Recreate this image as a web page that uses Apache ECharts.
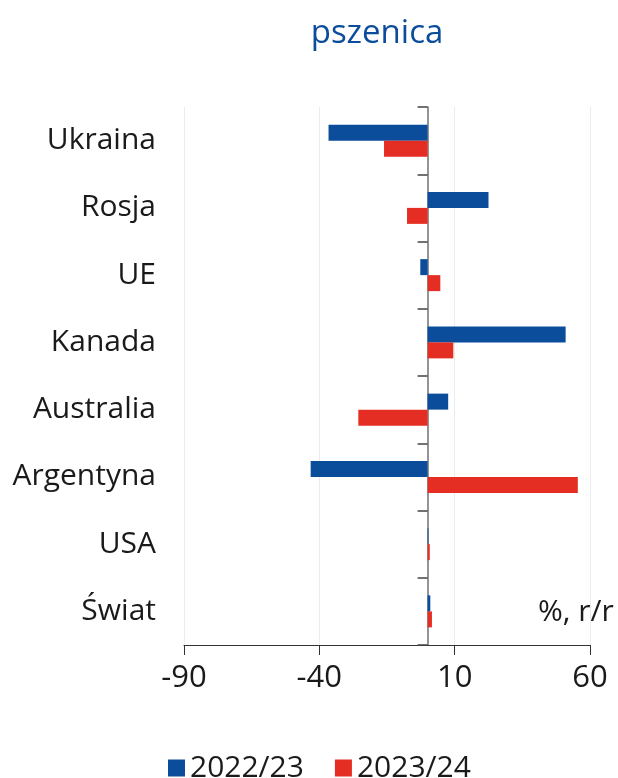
<!DOCTYPE html>
<html>
<head>
<meta charset="utf-8">
<script src="https://cdn.jsdelivr.net/npm/echarts@6/dist/echarts.min.js"></script>
<style>
html,body{margin:0;padding:0;background:#fff;}
#main{width:618px;height:778px;}
</style>
</head>
<body>
<div id="main"></div>
<script>
const titleText = 'pszenica';
const unitText = '%, r/r';
const categories = ['Ukraina', 'Rosja', 'UE', 'Kanada', 'Australia', 'Argentyna', 'USA', 'Świat'];
const seriesNames = ['2022/23', '2023/24'];
const values2223 = [-36.6, 22.5, -2.7, 51.0, 7.6, -43.2, 0.3, 1.0];
const values2324 = [-16.1, -7.6, 4.7, 9.5, -25.6, 55.5, 0.8, 1.6];
const xMin = -90, xMax = 60, xStep = 50;

const FONT = 'Open Sans';
const chart = echarts.init(document.getElementById('main'), null, {renderer: 'canvas'});
chart.setOption({
  animation: false,
  backgroundColor: '#fff',
  title: {
    text: titleText,
    left: 372, top: 12,
    textAlign: 'center',
    textStyle: {fontFamily: FONT, fontSize: 33, fontWeight: 'normal', color: '#0b4d9b'}
  },
  legend: {
    data: seriesNames,
    left: 163, top: 748,
    icon: 'rect', itemWidth: 17, itemHeight: 17, itemGap: 31,
    textStyle: {fontFamily: FONT, fontSize: 30, color: '#1a1a1a'}
  },
  grid: {left: 184, right: 28, top: 107, bottom: 133, containLabel: false},
  xAxis: {
    type: 'value', min: xMin, max: xMax, interval: xStep,
    axisLine: {show: true, onZero: false, lineStyle: {color: '#333', width: 1}},
    axisTick: {show: true, length: 10, lineStyle: {color: '#333'}},
    axisLabel: {fontFamily: FONT, fontSize: 31, color: '#1a1a1a', margin: 18},
    splitLine: {show: true, lineStyle: {color: '#ececec', width: 1}}
  },
  yAxis: [
    {
      type: 'category', data: categories, inverse: true, position: 'left',
      axisLine: {show: false, onZero: false},
      axisTick: {show: false},
      axisLabel: {fontFamily: FONT, fontSize: 30, color: '#1a1a1a', margin: 28}
    },
    {
      type: 'category', data: categories, inverse: true, position: 'left',
      axisLine: {show: true, onZero: true, lineStyle: {color: '#707070', width: 1.5}},
      axisTick: {show: true, length: 10, lineStyle: {color: '#444', width: 1.5}},
      axisLabel: {show: false},
      splitLine: {show: false}
    }
  ],
  series: [
    {name: seriesNames[0], type: 'bar', yAxisIndex: 0, data: values2223, barWidth: 16, barGap: '0%',
     itemStyle: {color: '#0b4d9b'}},
    {name: seriesNames[1], type: 'bar', yAxisIndex: 0, data: values2324, barWidth: 16, barGap: '0%',
     itemStyle: {color: '#e52e23'}}
  ],
  graphic: [{
    type: 'text', left: 538, top: 597,
    style: {text: unitText, fontFamily: FONT, fontSize: 30, fill: '#1a1a1a'}
  }]
});
</script>
</body>
</html>
